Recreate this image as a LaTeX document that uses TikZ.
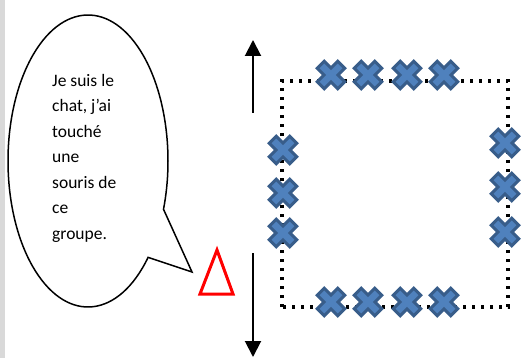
\documentclass[tikz,border=0pt]{standalone}
\usepackage{fontspec}
\setmainfont{Carlito}
\usetikzlibrary{arrows.meta}
\definecolor{crossfill}{HTML}{4F81BD}
\definecolor{crossline}{HTML}{385D8A}
\definecolor{strip}{HTML}{D9D9D9}
\newcommand\mycross[1]{%
  \draw[crossshape,shift={#1},rotate=45]
    (14.5,5)--(5,5)--(5,14.5)--(-5,14.5)--(-5,5)--(-14.5,5)--(-14.5,-5)
    --(-5,-5)--(-5,-14.5)--(5,-14.5)--(5,-5)--(14.5,-5)--cycle;}
\begin{document}
\begin{tikzpicture}[x=1pt,y=-1pt,
  crossshape/.style={fill=crossfill,draw=crossline,line width=3pt,line join=miter},
  bubble/.style={draw=black,line width=1.5pt,fill=white,line join=miter},
  arr/.style={line width=2pt,-{Triangle[width=16pt,length=16pt]}},
  dotbox/.style={line width=3.3pt,dash pattern=on 3.3pt off 5.7pt},
  warn/.style={draw=red,line width=3pt,line join=miter}]
\useasboundingbox (0,0) rectangle (521,358);
\fill[strip] (0,0) rectangle (4.5,358);
% speech bubble
\draw[bubble] (88,161) ++(41.3:80 and 146)
  arc[start angle=41.3,end angle=379.3,x radius=80,y radius=146]
  -- (192,272) -- cycle;
\node[anchor=north west,inner sep=0pt,align=left,font=\fontsize{17.5}{25.5}\selectfont] (txt) at (52,74)
  {Je suis le\\chat, j’ai\\touché\\une\\souris de\\ce\\groupe.};
% red triangle
\draw[warn] (217,250) -- (233,294) -- (200,294) -- cycle;
% arrows
\coordinate (upS) at (253,113);
\coordinate (upE) at (253,40);
\coordinate (dnS) at (253,253);
\coordinate (dnE) at (253,357);
\draw[arr] (upS) -- (upE);
\draw[arr] (dnS) -- (dnE);
% dotted box
\draw[dotbox] (282,307) -- (282,81) -- (508,81) -- (508,307) -- cycle;
% crosses
\foreach \x in {331,368,407,444} {\mycross{(\x,75)} \mycross{(\x,302)}}
\foreach \y in {150,193,233} {\mycross{(283,\y)}}
\foreach \y in {143,187,232} {\mycross{(505,\y)}}
\end{tikzpicture}
\end{document}
